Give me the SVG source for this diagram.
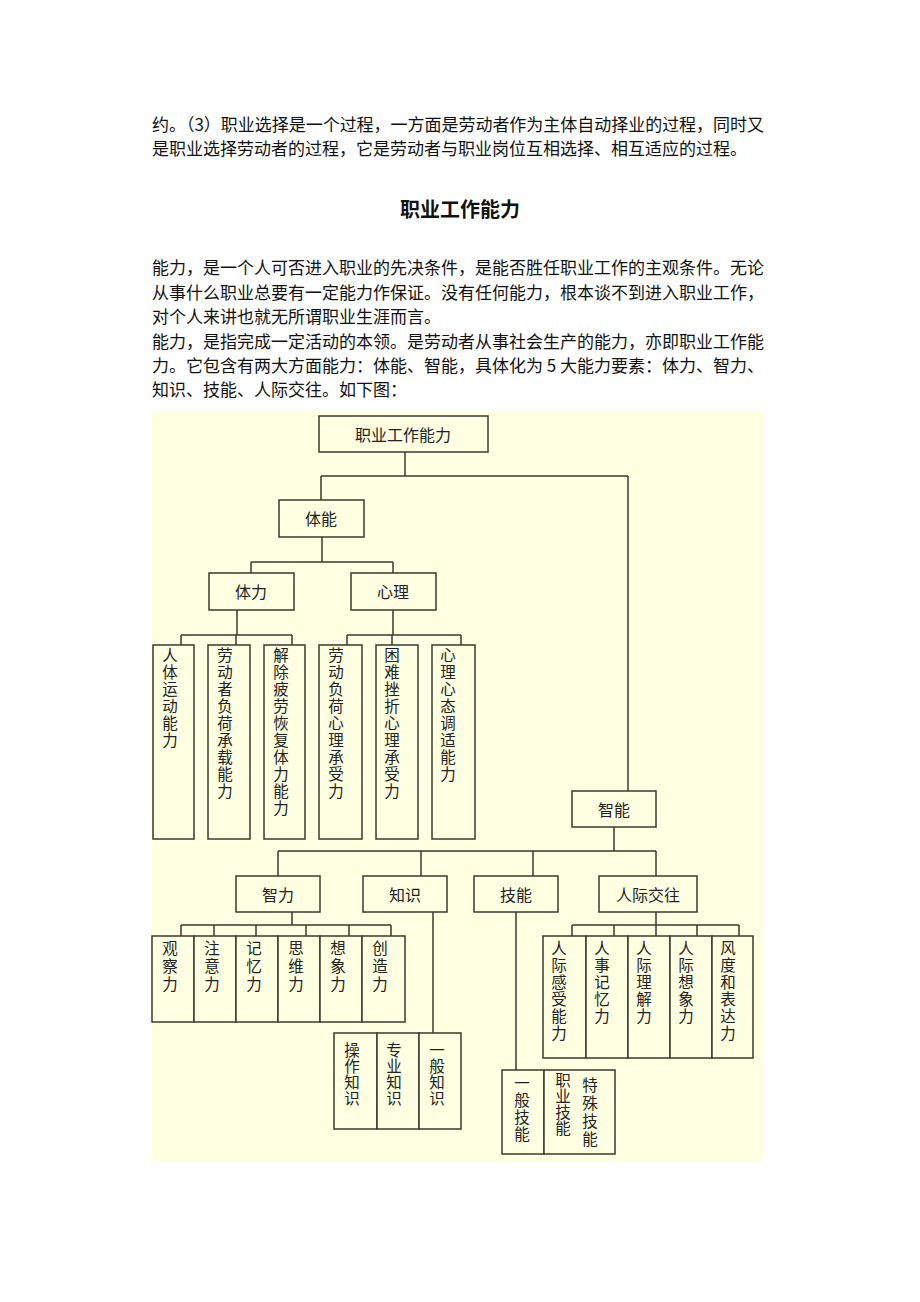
<svg xmlns="http://www.w3.org/2000/svg" width="920" height="1302" viewBox="0 0 920 1302">
<style>
.body{font-family:"Noto Sans CJK SC","Noto Sans",sans-serif;font-size:17px;fill:#111}
.title{font-family:"Noto Sans CJK SC","Noto Sans",sans-serif;font-size:20px;font-weight:bold;fill:#111}
.box{fill:#FFFFE1;stroke:#3a3a2e;stroke-width:1.5}
.lbl{font-family:"Noto Sans CJK SC","Noto Sans",sans-serif;font-size:16px;fill:#222;text-anchor:middle;dominant-baseline:central}
.vt{font-family:"Noto Sans CJK SC","Noto Sans",sans-serif;font-size:15.5px;fill:#222;writing-mode:vertical-rl;text-orientation:upright;letter-spacing:1.5px}
.s18{letter-spacing:2.5px}
.s16{letter-spacing:0.5px}
.ln{fill:none;stroke:#3a3a2e;stroke-width:1.5}
</style>
<rect width="920" height="1302" fill="#ffffff"/>
<text class="body" x="152" y="131" textLength="612" lengthAdjust="spacing">约。（3）职业选择是一个过程，一方面是劳动者作为主体自动择业的过程，同时又</text>
<text class="body" x="152" y="155">是职业选择劳动者的过程，它是劳动者与职业岗位互相选择、相互适应的过程。</text>
<text class="title" x="460" y="217" text-anchor="middle">职业工作能力</text>
<text class="body" x="152" y="274" textLength="612" lengthAdjust="spacing">能力，是一个人可否进入职业的先决条件，是能否胜任职业工作的主观条件。无论</text>
<text class="body" x="152" y="299" textLength="612" lengthAdjust="spacing">从事什么职业总要有一定能力作保证。没有任何能力，根本谈不到进入职业工作，</text>
<text class="body" x="152" y="323">对个人来讲也就无所谓职业生涯而言。</text>
<text class="body" x="152" y="348" textLength="612" lengthAdjust="spacing">能力，是指完成一定活动的本领。是劳动者从事社会生产的能力，亦即职业工作能</text>
<text class="body" x="152" y="372" textLength="612" lengthAdjust="spacing">力。它包含有两大方面能力：体能、智能，具体化为 5 大能力要素：体力、智力、</text>
<text class="body" x="152" y="396">知识、技能、人际交往。如下图：</text>

<rect x="152" y="412" width="611" height="750" fill="#FFFFE1"/>

<g id="connectors">
<path class="ln" d="M405,452V476M321,476H628M321,476V500M628,476V791"/>
<path class="ln" d="M322,537V562M251,562H393M251,562V573M393,562V573"/>
<path class="ln" d="M237,610V635M181,635H292M181,635V645M236,635V645M292,635V645"/>
<path class="ln" d="M393,610V635M347,635H461M347,635V645M392,635V645M461,635V645"/>
<path class="ln" d="M614,827V851M278,851H656M278,851V876M421,851V876M533,851V876M656,851V876"/>
<path class="ln" d="M292,912V925M181,925H391M181,925V936M214,925V936M256,925V936M306,925V936M349,925V936M391,925V936"/>
<path class="ln" d="M433,912V1033"/>
<path class="ln" d="M516,912V1070"/>
<path class="ln" d="M656,912V925M572,925H739M572,925V936M614,925V936M656,925V936M697,925V936M739,925V936"/>
</g>

<g id="n-root"><rect class="box" x="319" y="416" width="169" height="36"/><text class="lbl" x="403" y="434">职业工作能力</text></g>
<g id="n-tineng"><rect class="box" x="279" y="500" width="85" height="37"/><text class="lbl" x="321" y="518">体能</text></g>
<g id="n-tili"><rect class="box" x="209" y="573" width="85" height="37"/><text class="lbl" x="251" y="591">体力</text></g>
<g id="n-xinli"><rect class="box" x="351" y="573" width="85" height="37"/><text class="lbl" x="393" y="591">心理</text></g>

<g id="n-rentiyundong"><rect class="box" x="153" y="645" width="41" height="194"/><text class="vt" x="170" y="647">人体运动能力</text></g>
<g id="n-fuhechengzai"><rect class="box" x="208" y="645" width="42" height="194"/><text class="vt" x="225" y="647">劳动者负荷承载能力</text></g>
<g id="n-jiechupilao"><rect class="box" x="264" y="645" width="41" height="194"/><text class="vt" x="281" y="647">解除疲劳恢复体力能力</text></g>
<g id="n-laodongfuhe"><rect class="box" x="319" y="645" width="43" height="194"/><text class="vt" x="336" y="647">劳动负荷心理承受力</text></g>
<g id="n-kunnancuozhe"><rect class="box" x="376" y="645" width="42" height="194"/><text class="vt" x="392" y="647">困难挫折心理承受力</text></g>
<g id="n-xintaitiaoshi"><rect class="box" x="432" y="645" width="43" height="194"/><text class="vt" x="448" y="647">心理心态调适能力</text></g>

<g id="n-zhineng"><rect class="box" x="572" y="791" width="84" height="36"/><text class="lbl" x="614" y="809">智能</text></g>
<g id="n-zhili"><rect class="box" x="236" y="876" width="84" height="36"/><text class="lbl" x="278" y="894">智力</text></g>
<g id="n-zhishi"><rect class="box" x="363" y="876" width="84" height="36"/><text class="lbl" x="405" y="894">知识</text></g>
<g id="n-jineng"><rect class="box" x="474" y="876" width="84" height="36"/><text class="lbl" x="516" y="894">技能</text></g>
<g id="n-renjijiaowang"><rect class="box" x="599" y="876" width="98" height="36"/><text class="lbl" x="648" y="894">人际交往</text></g>

<g id="n-guancha"><rect class="box" x="152" y="936" width="42" height="86"/><text class="vt s18" x="170" y="940">观察力</text></g>
<g id="n-zhuyi"><rect class="box" x="194" y="936" width="42" height="86"/><text class="vt s18" x="212" y="940">注意力</text></g>
<g id="n-jiyi"><rect class="box" x="236" y="936" width="42" height="86"/><text class="vt s18" x="254" y="940">记忆力</text></g>
<g id="n-siwei"><rect class="box" x="278" y="936" width="42" height="86"/><text class="vt s18" x="296" y="940">思维力</text></g>
<g id="n-xiangxiang"><rect class="box" x="320" y="936" width="42" height="86"/><text class="vt s18" x="338" y="940">想象力</text></g>
<g id="n-chuangzao"><rect class="box" x="362" y="936" width="43" height="86"/><text class="vt s18" x="380" y="940">创造力</text></g>

<g id="n-caozuozhishi"><rect class="box" x="334" y="1033" width="43" height="96"/><text class="vt s16" x="352" y="1042">操作知识</text></g>
<g id="n-zhuanyezhishi"><rect class="box" x="377" y="1033" width="42" height="96"/><text class="vt s16" x="394" y="1042">专业知识</text></g>
<g id="n-yibanzhishi"><rect class="box" x="419" y="1033" width="42" height="96"/><text class="vt s16" x="437" y="1042">一般知识</text></g>

<g id="n-yibanjineng"><rect class="box" x="502" y="1070" width="42" height="84"/><text class="vt" x="522" y="1075">一般技能</text></g>
<g id="n-zhiyetesu"><rect class="box" x="544" y="1070" width="71" height="84"/><text class="vt s16" x="563" y="1072">职业技能</text><text class="vt s18" x="590" y="1077">特殊技能</text></g>

<g id="n-renjiganshou"><rect class="box" x="543" y="936" width="43" height="122"/><text class="vt" x="559" y="940">人际感受能力</text></g>
<g id="n-renshijiyi"><rect class="box" x="586" y="936" width="42" height="122"/><text class="vt" x="602" y="940">人事记忆力</text></g>
<g id="n-renjilijie"><rect class="box" x="628" y="936" width="42" height="122"/><text class="vt" x="644" y="940">人际理解力</text></g>
<g id="n-renjixiangxiang"><rect class="box" x="670" y="936" width="42" height="122"/><text class="vt" x="686" y="940">人际想象力</text></g>
<g id="n-fengdu"><rect class="box" x="712" y="936" width="41" height="122"/><text class="vt" x="728" y="940">风度和表达力</text></g>
</svg>
